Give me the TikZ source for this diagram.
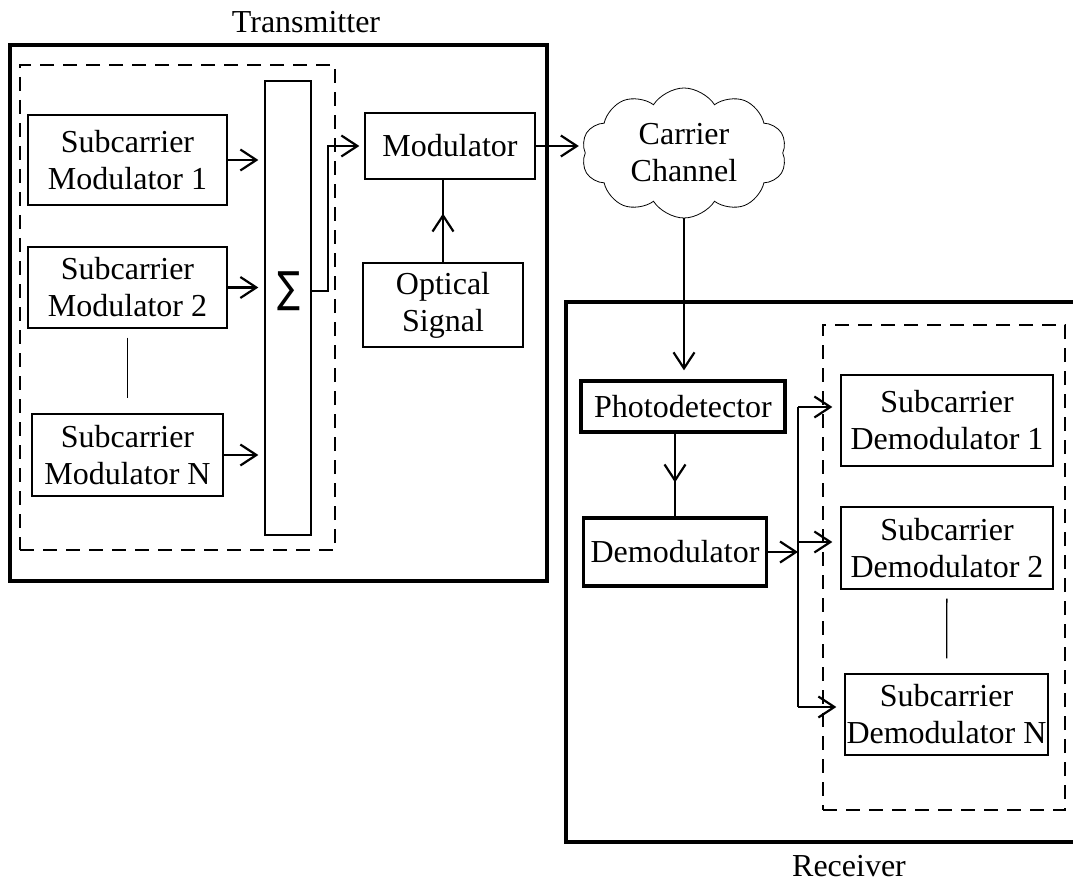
\documentclass[tikz,border=0pt]{standalone}
\usepackage{fontspec}
\setmainfont{Liberation Serif}
\newfontfamily\sumfont{DejaVu Sans}
\usetikzlibrary{arrows.meta,shapes.symbols,decorations.markings}

\begin{document}
\begin{tikzpicture}[x=1pt,y=-1pt,
    font=\fontsize{32}{37}\selectfont,
    >={Straight Barb[length=16pt,width=21pt]},
    block/.style={draw,line width=1.3pt,align=center,inner sep=1pt},
    heavyblock/.style={draw,line width=3.3pt,align=center,inner sep=1pt},
    frame/.style={draw,line width=4pt},
    dashgroup/.style={draw,dash pattern=on 14pt off 9pt,line width=1.3pt},
    wire/.style={line width=2.2pt},
    midarrow/.style={wire,postaction={decorate},
        decoration={markings,mark=at position 0.59 with {\arrow{>}}}}]
    \useasboundingbox (0,0) rectangle (1073,885);

    % outer frames and their titles
    \node[frame,minimum width=537pt,minimum height=536pt] (tx) at (278.5,313) {};
    \node[frame,minimum width=524pt,minimum height=540pt] (rx) at (828,572) {};
    \node (txlabel) at (306,22) {Transmitter};
    \node (rxlabel) at (849,866) {Receiver};

    % dashed groups
    \node[dashgroup,minimum width=315pt,minimum height=485pt] (txgroup) at (177.5,307.5) {};
    \node[dashgroup,minimum width=242pt,minimum height=485pt] (rxgroup) at (944,567.5) {};

    % transmitter side
    \node[block,minimum width=199pt,minimum height=90pt] (sm1) at (127.5,160) {Subcarrier\\Modulator 1};
    \node[block,minimum width=199pt,minimum height=81pt] (sm2) at (127.5,287.5) {Subcarrier\\Modulator 2};
    \node[block,minimum width=191pt,minimum height=82pt] (smN) at (127.5,455) {Subcarrier\\Modulator N};
    \node[block,minimum width=46pt,minimum height=454pt] (bar) at (288,308) {};
    \node (sum) at (289,291) {\resizebox*{23pt}{39pt}{\sumfont ∑}};
    \node[block,minimum width=170pt,minimum height=66pt] (mod) at (450,146) {Modulator};
    \node[block,minimum width=160pt,minimum height=84pt] (opt) at (443,305) {Optical\\Signal};
    \node[cloud,draw,line width=0.8pt,cloud puffs=10,cloud puff arc=115,aspect=1.6,
        inner sep=0pt,minimum width=205pt,minimum height=130pt,align=center] (chan) at (684,153) {Carrier\\Channel};

    % receiver side
    \node[heavyblock,minimum width=204pt,minimum height=51pt] (pd) at (683,406.5) {Photodetector};
    \node[heavyblock,minimum width=183pt,minimum height=68pt] (demod) at (675,552) {Demodulator};
    \node[block,minimum width=212pt,minimum height=91pt] (sd1) at (947,420.5) {Subcarrier\\Demodulator 1};
    \node[block,minimum width=212pt,minimum height=82pt] (sd2) at (947,548) {Subcarrier\\Demodulator 2};
    \node[block,minimum width=203pt,minimum height=81pt] (sdN) at (946.5,714.5) {Subcarrier\\Demodulator N};

    \coordinate (bus1) at (798,407);
    \coordinate (bus2) at (798,542);
    \coordinate (busN) at (798,707);

    % connections
    \foreach \m in {sm1,sm2,smN}
        \draw[wire,->,shorten >=6pt] (\m) -- (\m -| bar.west);
    \draw[line width=1.3pt,shorten <=9pt,shorten >=15pt] (sm2) -- (smN);
    \draw[wire,->,shorten >=5pt] (bar.east |- sum) -- ++(16,0) |- (mod.west);
    \draw[midarrow] (opt.north) -- (opt.north |- mod.south);
    \draw[wire,->,shorten >=6pt] (mod) -- (mod -| chan.west);
    \draw[wire,->,shorten >=9pt] (chan) -- (chan |- pd.north);
    \draw[midarrow] (demod.north |- pd.south) -- (demod.north);
    \draw[wire,->] (demod) -- (demod -| bus2);
    \draw[wire] (bus1) -- (busN);
    \foreach \b/\s in {bus1/sd1,bus2/sd2,busN/sdN}
        \draw[wire,->,shorten >=8pt] (\b) -- (\b -| \s.west);
    \draw[line width=1.3pt,shorten <=9pt,shorten >=15pt] (sd2) -- (sdN);
\end{tikzpicture}
\end{document}
